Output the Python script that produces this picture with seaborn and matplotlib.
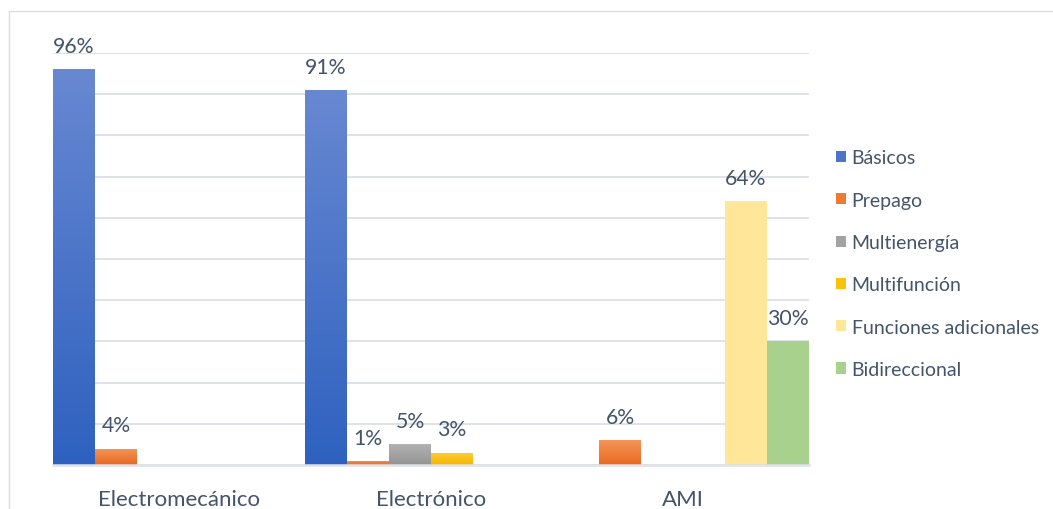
import numpy as np
import pandas as pd
import matplotlib
matplotlib.use("Agg")
import matplotlib.pyplot as plt
from matplotlib.colors import LinearSegmentedColormap, to_hex
from matplotlib.patches import Patch
from matplotlib.lines import Line2D
import seaborn as sns

# Meter technology types and share of each functionality (%)
categorias = ["Electromecánico", "Electrónico", "AMI"]
funciones = ["Básicos", "Prepago", "Multienergía", "Multifunción",
             "Funciones adicionales", "Bidireccional"]

electromecanico = {"Básicos": 96, "Prepago": 4}
electronico = {"Básicos": 91, "Prepago": 1, "Multienergía": 5, "Multifunción": 3}
ami = {"Prepago": 6, "Funciones adicionales": 64, "Bidireccional": 30}

colores = {
    "Básicos": "#4a75c8",
    "Prepago": "#ee7b30",
    "Multienergía": "#a3a3a3",
    "Multifunción": "#fcc10f",
    "Funciones adicionales": "#ffe699",
    "Bidireccional": "#a9d18e",
}
# vertical gradient (top, bottom) for the shaded series
degradados = {
    "Básicos": ("#6888d2", "#2e61bf"),
    "Prepago": ("#f4955a", "#e8691f"),
    "Multienergía": ("#b2b2b2", "#939393"),
    "Multifunción": ("#ffcd35", "#f5b700"),
}

filas = []
for cat, serie in zip(categorias, [electromecanico, electronico, ami]):
    for f, v in serie.items():
        filas.append({"tipo": cat, "funcion": f, "valor": v})
df = pd.DataFrame(filas)

sns.set_theme(style="white")
plt.rcParams["font.family"] = ["Lato", "DejaVu Sans"]
texto = "#44546a"
rejilla = "#dfe2e7"

fig = plt.figure(figsize=(10.53, 5.10), dpi=100)
ax = fig.add_axes([53 / 1053, 44 / 510, 756 / 1053, 412 / 510])

sns.barplot(data=df, x="tipo", y="valor", hue="funcion",
            order=categorias, hue_order=funciones, palette=colores,
            width=1.0, gap=0, saturation=1, errorbar=None,
            linewidth=0, legend=False, ax=ax)

por_color = {to_hex(c): n for n, c in colores.items()}

# gradient shading clipped to each bar, then the value labels
for cont in ax.containers:
    for barra in cont.patches:
        nombre = por_color.get(to_hex(barra.get_facecolor()))
        if nombre in degradados:
            top, bottom = degradados[nombre]
            cmap = LinearSegmentedColormap.from_list(nombre, [top, bottom])
            x, w = barra.get_x(), barra.get_width()
            y, h = barra.get_y(), barra.get_height()
            im = ax.imshow(np.linspace(0, 1, 256).reshape(-1, 1), cmap=cmap,
                           extent=[x, x + w, y, y + h], origin="upper",
                           aspect="auto", zorder=barra.get_zorder() + 0.1,
                           interpolation="bilinear")
            im.set_clip_path(barra)
    ax.bar_label(cont, labels=[f"{v:.0f}%" for v in cont.datavalues],
                 padding=9.5, fontsize=15.3, color=texto)

ax.set_xlim(-0.5, 2.5)
ax.set_ylim(0, 100)
ax.set_yticks(np.arange(0, 101, 10))
ax.yaxis.grid(True, color=rejilla, linewidth=1.4)
ax.set_axisbelow(True)
ax.tick_params(axis="y", left=False, labelleft=False)
ax.tick_params(axis="x", bottom=False, pad=11.5, labelsize=16, labelcolor=texto)
ax.set_xlabel("")
ax.set_ylabel("")
for lado in ["top", "right", "left"]:
    ax.spines[lado].set_visible(False)
ax.spines["bottom"].set_color(rejilla)
ax.spines["bottom"].set_linewidth(1.8)

manejadores = [Patch(facecolor=colores[f], edgecolor="none", label=f) for f in funciones]
leg = fig.legend(handles=manejadores, loc="upper left",
                 bbox_to_anchor=(836 / 1053, 1 - 150.5 / 510), frameon=False,
                 fontsize=14, labelcolor=texto, handlelength=0.5,
                 handleheight=0.5, handletextpad=0.3, labelspacing=1.30,
                 borderaxespad=0, borderpad=0)

# chart area frame (top and left edges)
fig.add_artist(Line2D([9 / 1053, 1], [1 - 12 / 510, 1 - 12 / 510],
                      transform=fig.transFigure, color="#d9dde3", linewidth=1))
fig.add_artist(Line2D([9 / 1053, 9 / 1053], [0, 1 - 12 / 510],
                      transform=fig.transFigure, color="#d9dde3", linewidth=1))

fig.savefig("out.png", dpi=100)
